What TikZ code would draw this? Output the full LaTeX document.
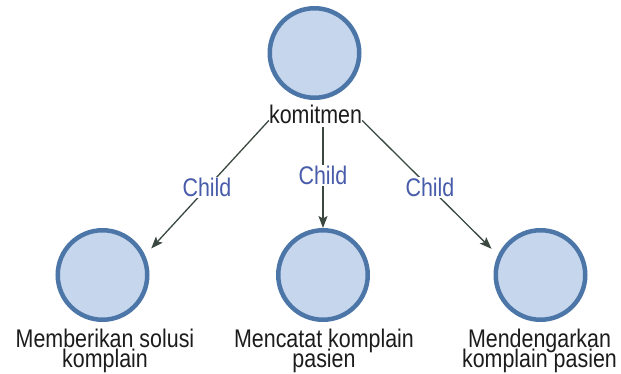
\documentclass[tikz,border=0pt]{standalone}
\usepackage{fontspec}
\setmainfont{Liberation Sans}
\newfontfamily\lblfont{Liberation Sans}[FakeStretch=0.84]
\newcommand\lblsize{\fontsize{25.5}{20}\selectfont\lineskiplimit=-40pt\relax}
\usetikzlibrary{arrows.meta}
\definecolor{circfill}{RGB}{198,214,236}
\definecolor{circline}{RGB}{76,118,168}
\definecolor{edgecol}{RGB}{58,72,64}
\definecolor{childcol}{RGB}{72,92,170}
\definecolor{txtcol}{RGB}{28,28,28}
\tikzset{
  conceptnode/.style={circle, draw=circline, fill=circfill, line width=4.5pt,
    minimum size=89.5pt, inner sep=0pt},
  lbl/.style={font=\lblfont\lblsize, text=txtcol, inner sep=0pt, align=center},
  rel/.style={draw=edgecol, line width=1.3pt,
    -{Stealth[length=12pt,width=9pt,inset=2.5pt]}},
  childlbl/.style={font=\lblfont\lblsize, text=childcol,
    fill=white, inner sep=1pt}
}
\begin{document}
\begin{tikzpicture}[x=1pt,y=1pt]
\useasboundingbox (0,0) rectangle (621,373);
\fill[white] (0,0) rectangle (621,373);
% circles
\node[conceptnode] (tc) at (314.5,320) {};
\node[conceptnode] (lc) at (102.5,98) {};
\node[conceptnode] (mc) at (323,98) {};
\node[conceptnode] (rc) at (540.5,98) {};
% labels
\node[lbl, anchor=base] (kt) at (315.5,250) {komitmen};
\node[lbl, anchor=north] (lt) at (105,44) {Memberikan solusi\\komplain};
\node[lbl, anchor=north] (mt) at (324,44) {Mencatat komplain\\pasien};
\node[lbl, anchor=north] (rt) at (539.5,44) {Mendengarkan\\komplain pasien};
% connectors
\draw[rel, shorten >=9pt] ([yshift=3pt]kt.south west) -- (lc.25)
  node[childlbl, midway] {Child};
\draw[rel, shorten <=4pt] (kt.south -| mc.north) -- (mc.north)
  node[childlbl, midway] {Child};
\draw[rel, shorten >=9pt] ([yshift=3pt]kt.south east) -- (rc.155)
  node[childlbl, midway] {Child};
\end{tikzpicture}
\end{document}
